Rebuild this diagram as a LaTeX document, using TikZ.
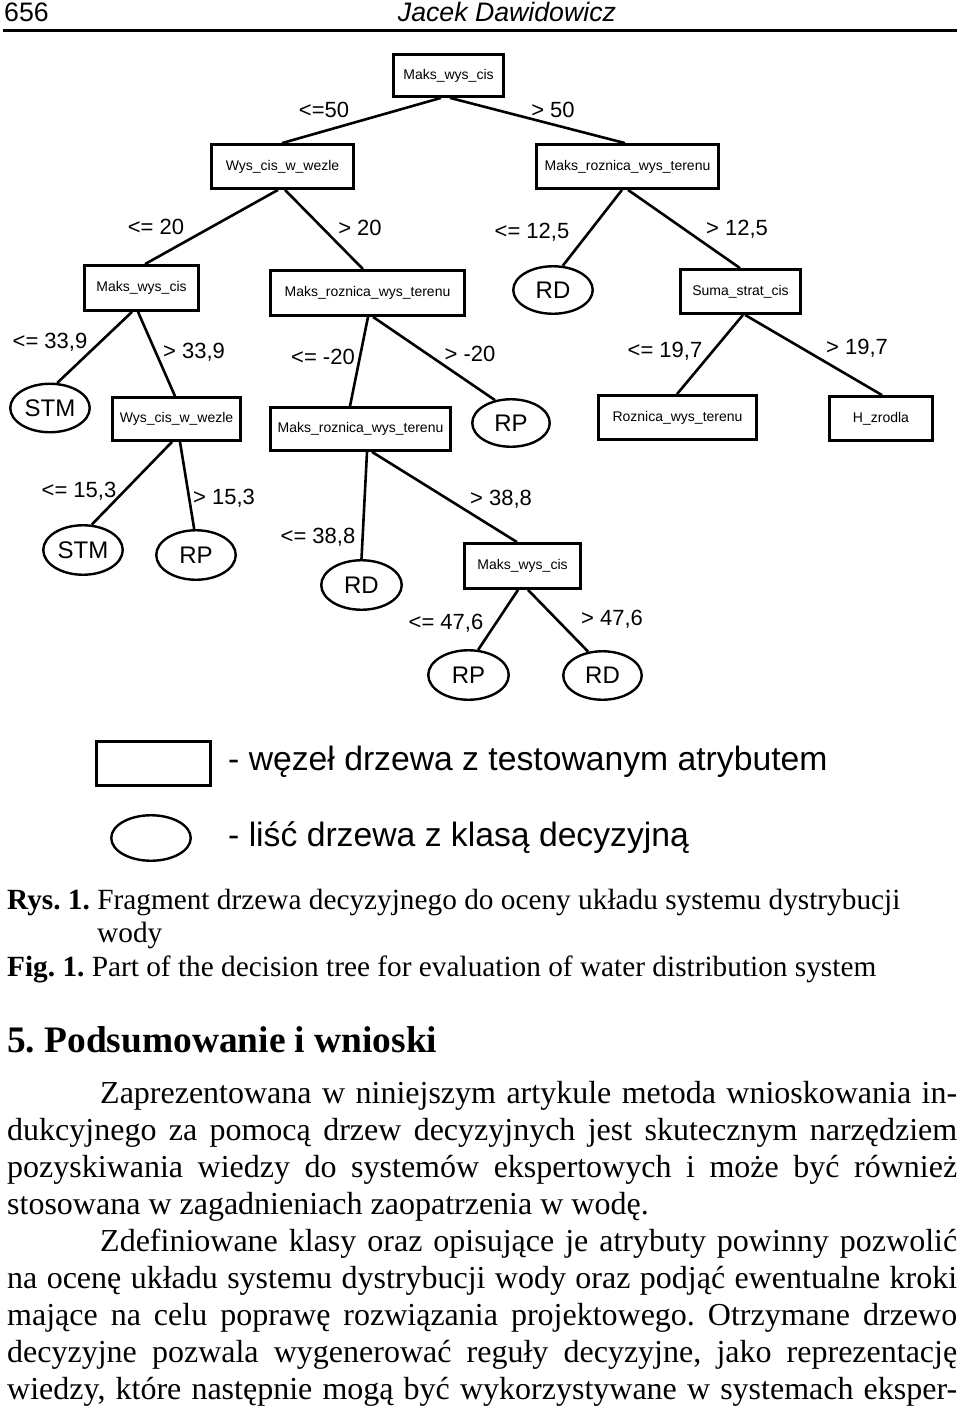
\documentclass[tikz,border=0pt]{standalone}
\usepackage{fontspec}
\setmainfont{Liberation Serif}
\newfontfamily\arialf{Liberation Sans}
\usetikzlibrary{shapes.geometric}
\frenchspacing
\begin{document}
\frenchspacing
\begin{tikzpicture}[x=1pt,y=-1pt,
  attr/.style={draw, line width=2.8pt, inner sep=0pt, font=\arialf\fontsize{14}{16}\selectfont},
  leaf/.style={draw, ellipse, line width=2.4pt, inner sep=0pt, font=\arialf\fontsize{24}{26}\selectfont},
  cond/.style={inner sep=0pt, font=\arialf\fontsize{22}{24}\selectfont},
  edge/.style={line width=2.6pt},
  hdr/.style={anchor=base, inner sep=0pt, font=\arialf\fontsize{26.7}{30}\selectfont},
  legtext/.style={anchor=base west, inner sep=0pt, font=\arialf\fontsize{33.7}{38}\selectfont},
  capt/.style={anchor=base west, inner sep=0pt, font=\frenchspacing\fontsize{29.3}{33}\selectfont},
  headg/.style={anchor=base west, inner sep=0pt, font=\bfseries\fontsize{37.4}{42}\selectfont},
  body/.style={anchor=base west, inner sep=0pt, font=\frenchspacing\fontsize{32}{37}\selectfont}
]
\useasboundingbox (0,0) rectangle (960,1409);

% header
\node[hdr, anchor=base west] (pnum) at (4,21) {656};
\node[hdr, font=\arialf\itshape\fontsize{26.7}{30}\selectfont] (author) at (507,21) {Jacek Dawidowicz};
\draw[line width=3pt] (3,30.5) -- (957,30.5);

% tree nodes
\node[attr, minimum width=110pt, minimum height=42pt] (root) at (448.5,75.5) {Maks\_wys\_cis};
\node[attr, minimum width=142pt, minimum height=44pt] (wcw1) at (282.5,166.5) {Wys\_cis\_w\_wezle};
\node[attr, minimum width=182pt, minimum height=44pt] (mrwt1) at (627.5,166.5) {Maks\_roznica\_wys\_terenu};
\node[attr, minimum width=114pt, minimum height=45pt] (mwc2) at (141.5,288) {Maks\_wys\_cis};
\node[attr, minimum width=194pt, minimum height=45pt] (mrwt2) at (367.5,293) {Maks\_roznica\_wys\_terenu};
\node[leaf, minimum width=79.5pt, minimum height=47.5pt] (RD1) at (553,290) {RD};
\node[attr, minimum width=120pt, minimum height=44pt] (ssc) at (740.5,291.5) {Suma\_strat\_cis};
\node[leaf, minimum width=79.5pt, minimum height=48.5pt] (STM1) at (50,408) {STM};
\node[attr, minimum width=128pt, minimum height=43pt] (wcw2) at (176.5,419) {Wys\_cis\_w\_wezle};
\node[attr, minimum width=180pt, minimum height=43pt] (mrwt3) at (360.5,429) {Maks\_roznica\_wys\_terenu};
\node[leaf, minimum width=77.5pt, minimum height=47.5pt] (RP1) at (511,423) {RP};
\node[attr, minimum width=158pt, minimum height=44pt] (rwt) at (677.5,417.5) {Roznica\_wys\_terenu};
\node[attr, minimum width=103pt, minimum height=44pt] (hz) at (881,418.5) {H\_zrodla};
\node[leaf, minimum width=79.5pt, minimum height=49.5pt] (STM2) at (83,550) {STM};
\node[leaf, minimum width=79.5pt, minimum height=49.5pt] (RP2) at (196,555) {RP};
\node[leaf, minimum width=80.5pt, minimum height=49.5pt] (RD2) at (361.5,585) {RD};
\node[attr, minimum width=116pt, minimum height=45pt] (mwc3) at (522.5,566) {Maks\_wys\_cis};
\node[leaf, minimum width=80.5pt, minimum height=49.5pt] (RP3) at (468.5,675) {RP};
\node[leaf, minimum width=78.5pt, minimum height=48.5pt] (RD3) at (602.5,675.5) {RD};

% edges
\draw[edge] ([xshift=-7.5pt]root.south) -- ([xshift=-0.5pt]wcw1.north);
\draw[edge] ([xshift=1.5pt]root.south) -- ([xshift=-2.5pt]mrwt1.north);
\draw[edge] ([xshift=-4.5pt]wcw1.south) -- ([xshift=3.5pt]mwc2.north);
\draw[edge] ([xshift=2.5pt]wcw1.south) -- ([xshift=-4.5pt]mrwt2.north);
\draw[edge] ([xshift=-5.5pt]mrwt1.south) -- (RD1.68);
\draw[edge] ([xshift=0.5pt]mrwt1.south) -- ([xshift=-0.5pt]ssc.north);
\draw[edge] ([xshift=-9.5pt]mwc2.south) -- (STM1.74);
\draw[edge] ([xshift=-3.5pt]mwc2.south) -- ([xshift=-1.5pt]wcw2.north);
\draw[edge] ([xshift=0.5pt]mrwt2.south) -- ([xshift=-10.5pt]mrwt3.north);
\draw[edge] ([xshift=5.5pt]mrwt2.south) -- (RP1.125);
\draw[edge] ([xshift=2.5pt]ssc.south) -- ([xshift=-0.5pt]rwt.north);
\draw[edge] ([xshift=4.5pt]ssc.south) -- ([xshift=1pt]hz.north);
\draw[edge] ([xshift=-4.5pt]wcw2.south) -- (STM2.71);
\draw[edge] ([xshift=3.5pt]wcw2.south) -- (RP2.94);
\draw[edge] ([xshift=6.5pt]mrwt3.south) -- (RD2.90);
\draw[edge] ([xshift=11.5pt]mrwt3.south) -- ([xshift=-5.5pt]mwc3.north);
\draw[edge] ([xshift=-4.5pt]mwc3.south) -- (RP3.69);
\draw[edge] ([xshift=5.5pt]mwc3.south) -- (RD3.121);

% condition labels
\node[cond] (l1) at (324,110) {<=50};
\node[cond] (l2) at (553,110) {> 50};
\node[cond] (l3) at (156,227) {<= 20};
\node[cond] (l4) at (360,228) {> 20};
\node[cond] (l5) at (532,232) {<= 12,5};
\node[cond] (l6) at (737,229) {> 12,5};
\node[cond] (l7) at (50,342) {<= 33,9};
\node[cond] (l8) at (194,352) {> 33,9};
\node[cond] (l9) at (323,357) {<= -20};
\node[cond] (l10) at (470,354) {> -20};
\node[cond] (l11) at (665,351) {<= 19,7};
\node[cond] (l12) at (857,348) {> 19,7};
\node[cond] (l13) at (79,491) {<= 15,3};
\node[cond] (l14) at (224,498) {> 15,3};
\node[cond] (l15) at (318,537) {<= 38,8};
\node[cond] (l16) at (501,499) {> 38,8};
\node[cond] (l17) at (446,623) {<= 47,6};
\node[cond] (l18) at (612,619) {> 47,6};

% legend
\node[draw, line width=2.8pt, minimum width=114pt, minimum height=44pt, inner sep=0pt] (legbox) at (153.5,763.5) {};
\node[draw, ellipse, line width=2.4pt, minimum width=79.5pt, minimum height=45.5pt, inner sep=0pt] (legleaf) at (151,838) {};
\node[legtext] (legt1) at (228,770) {- węzeł drzewa z testowanym atrybutem};
\node[legtext] (legt2) at (228,846) {- liść drzewa z klasą decyzyjną};

% caption
\node[capt] (cap1) at (7,909) {\textbf{Rys. 1.} Fragment drzewa decyzyjnego do oceny układu systemu dystrybucji};
\node[capt] (cap2) at (97,942) {wody};
\node[capt] (cap3) at (7,976) {\textbf{Fig. 1.} Part of the decision tree for evaluation of water distribution system};

% heading
\node[headg] (head) at (7,1052) {5. Podsumowanie i wnioski};

% body
\node[body] (b1) at (100,1103) {\makebox[857pt][s]{Zaprezentowana w niniejszym artykule metoda wnioskowania in-}};
\node[body] (b2) at (7,1140) {\makebox[950pt][s]{dukcyjnego za pomocą drzew decyzyjnych jest skutecznym narzędziem}};
\node[body] (b3) at (7,1177) {\makebox[950pt][s]{pozyskiwania wiedzy do systemów ekspertowych i może być również}};
\node[body] (b4) at (7,1214) {stosowana w zagadnieniach zaopatrzenia w wodę.};
\node[body] (b5) at (100,1251) {\makebox[857pt][s]{Zdefiniowane klasy oraz opisujące je atrybuty powinny pozwolić}};
\node[body] (b6) at (7,1288) {\makebox[950pt][s]{na ocenę układu systemu dystrybucji wody oraz podjąć ewentualne kroki}};
\node[body] (b7) at (7,1325) {\makebox[950pt][s]{mające na celu poprawę rozwiązania projektowego. Otrzymane drzewo}};
\node[body] (b8) at (7,1362) {\makebox[950pt][s]{decyzyjne pozwala wygenerować reguły decyzyjne, jako reprezentację}};
\node[body] (b9) at (7,1399) {\makebox[950pt][s]{wiedzy, które następnie mogą być wykorzystywane w systemach eksper-}};
\end{tikzpicture}
\end{document}
